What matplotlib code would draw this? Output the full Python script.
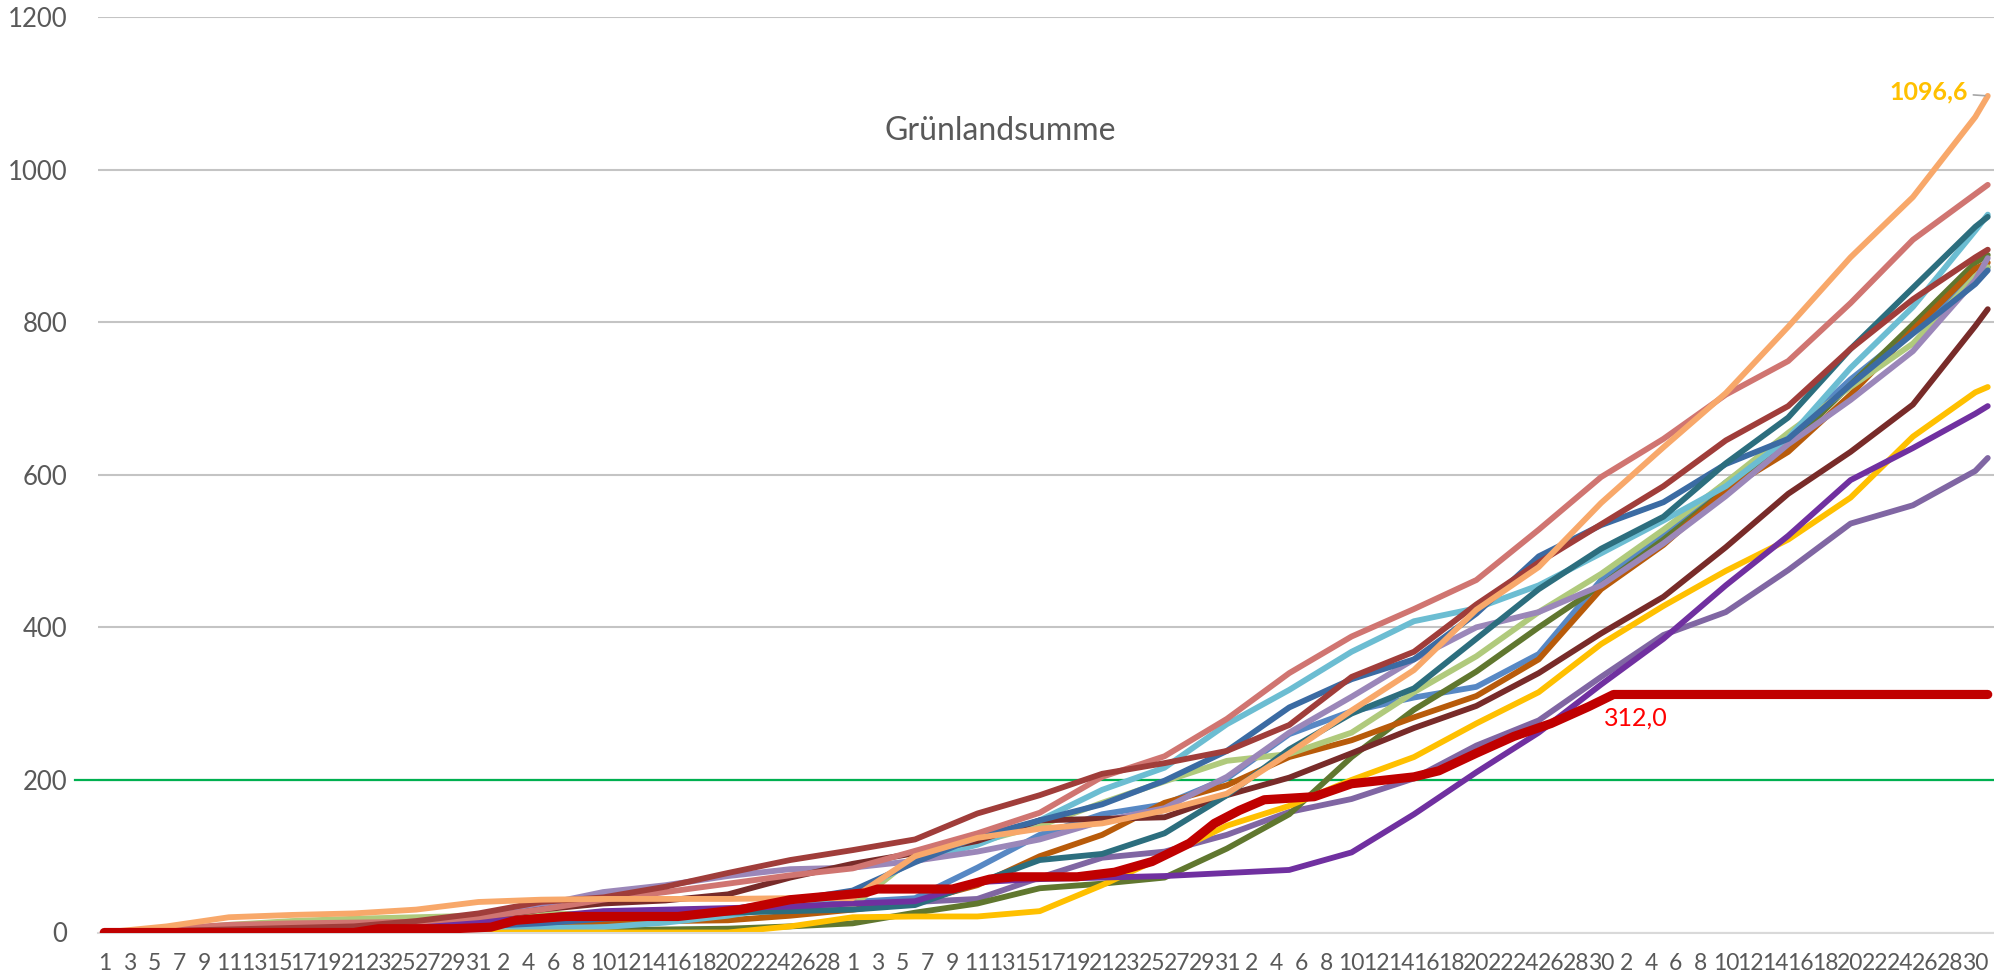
import matplotlib
matplotlib.use("Agg")
import matplotlib.pyplot as plt
import numpy as np

plt.rcParams['font.family'] = ['Lato', 'DejaVu Sans']

# Jan..May of a leap year, one category per day
MONTH_LENGTHS = [31, 29, 31, 30, 31]
TITLE = 'Grünlandsumme'

# sample days (index from 1 Jan) for the older years
DAYS = [0, 5, 10, 15, 20, 25, 30, 35, 40, 45, 50, 55, 60, 65, 70, 75, 80, 85,
        90, 95, 100, 105, 110, 115, 120, 125, 130, 135, 140, 145, 150, 151]

orange = [0, 8, 20, 23, 25, 30, 40, 43, 44, 44, 44, 45, 45, 100, 124, 136, 143, 160,
          182, 235, 291, 344, 423, 479, 563, 636, 707, 794, 885, 964, 1069, 1096.6]
rose = [0, 5, 10, 12, 13, 14, 20, 30, 43, 53, 64, 75, 84, 107, 130, 157, 204, 231,
        280, 340, 388, 424, 462, 528, 597, 647, 705, 749, 825, 908, 968, 980]
teal = [0, 2, 4, 6, 7, 9, 12, 18, 22, 24, 26, 28, 30, 36, 65, 95, 103, 130,
        180, 240, 287, 320, 385, 450, 503, 545, 615, 675, 765, 845, 925, 938]
aqua = [0, 1, 2, 3, 4, 4, 5, 6, 7, 13, 22, 35, 50, 94, 115, 147, 187, 216,
        273, 318, 368, 408, 425, 455, 497, 540, 585, 648, 740, 820, 920, 941]
darkred = [0, 2, 4, 6, 8, 15, 25, 40, 46, 60, 78, 95, 108, 122, 156, 180, 208, 222,
           238, 272, 335, 368, 430, 485, 535, 585, 645, 690, 765, 830, 885, 895]
olive = [0, 0, 1, 1, 2, 2, 2, 3, 3, 4, 5, 8, 12, 26, 38, 58, 64, 72,
         110, 155, 230, 292, 342, 400, 455, 515, 580, 638, 718, 797, 878, 888]
lavender = [0, 2, 5, 7, 9, 12, 22, 36, 53, 62, 74, 83, 85, 94, 106, 122, 146, 163,
            204, 262, 309, 358, 400, 420, 455, 510, 572, 640, 698, 762, 855, 884]
brownorange = [0, 1, 2, 3, 4, 5, 8, 12, 14, 15, 16, 22, 30, 40, 62, 100, 128, 170,
               193, 230, 252, 282, 310, 358, 450, 508, 580, 630, 705, 790, 870, 878]
lightblue = [0, 1, 2, 3, 4, 5, 8, 15, 22, 25, 28, 34, 40, 45, 85, 128, 155, 168,
             202, 260, 290, 308, 322, 365, 462, 520, 590, 650, 725, 790, 860, 872]
steelblue = [0, 1, 3, 4, 5, 6, 8, 12, 18, 22, 30, 42, 55, 92, 125, 147, 168, 199,
             238, 295, 332, 358, 418, 493, 534, 564, 614, 647, 718, 785, 850, 868]
lightgreen = [0, 3, 10, 15, 18, 20, 22, 24, 25, 27, 29, 31, 35, 100, 118, 140, 170, 198,
              225, 234, 262, 315, 362, 420, 470, 528, 590, 655, 715, 772, 860, 872]
maroon = [0, 2, 5, 8, 10, 12, 18, 30, 38, 42, 50, 72, 90, 104, 120, 147, 149, 151,
          180, 203, 235, 268, 297, 340, 392, 440, 505, 575, 630, 692, 795, 817]
yellow = [0, 0, 0, 0, 0, 0, 0, 0, 0, 0, 0, 8, 20, 21, 21, 28, 62, 100,
          140, 166, 200, 230, 274, 315, 378, 428, 474, 515, 570, 650, 708, 715]
violet = [0, 2, 4, 6, 8, 10, 14, 20, 28, 30, 32, 34, 38, 41, 66, 70, 72, 74,
          78, 82, 105, 155, 210, 262, 325, 385, 455, 520, 593, 635, 680, 690]
purple = [0, 1, 3, 5, 6, 8, 12, 18, 25, 28, 30, 33, 37, 40, 44, 72, 98, 106,
          128, 158, 175, 202, 245, 278, 335, 390, 420, 475, 536, 560, 605, 622]

# current year
red_days = [0, 20, 22, 28, 31, 33, 37, 46, 51, 55, 61, 62, 68, 71, 73, 78, 81, 84,
            87, 89, 91, 93, 97, 100, 105, 107, 110, 113, 116, 119, 121, 151]
red_vals = [0, 0, 5, 5, 7, 16, 21, 21, 30, 43, 52, 57, 57, 70, 73, 73, 79, 93,
            117, 143, 160, 174, 178, 195, 204, 212, 235, 257, 274, 296, 312, 312]

THRESHOLD = 200

series = [
    (lightblue, '#5788C4'), (purple, '#8066A3'), (olive, '#60772F'),
    (brownorange, '#B85B0A'), (lightgreen, '#B0CA7C'), (aqua, '#6CBDD2'),
    (lavender, '#9B87B9'), (maroon, '#782B29'), (steelblue, '#3B6BA3'),
    (teal, '#2C6E7E'), (yellow, '#FFC000'), (violet, '#7030A0'),
    (rose, '#D07571'), (darkred, '#A03D3A'), (orange, '#F8A86A'),
]

day_numbers = [d for m in MONTH_LENGTHS for d in range(1, m + 1)]
n_days = len(day_numbers)

fig = plt.figure(figsize=(19.94, 9.77), dpi=100)
ax = fig.add_axes([98 / 1994, 1 - 932.5 / 977, 1896 / 1994, 915.5 / 977])

ax.axhline(THRESHOLD, xmin=-0.012, xmax=1, color='#00B050', lw=1.6,
           clip_on=False, zorder=1)

for vals, col in series:
    ax.plot(DAYS, vals, color=col, lw=4.2, solid_joinstyle='round',
            solid_capstyle='round', zorder=2)

ax.plot(red_days, red_vals, color='#C00000', lw=6.6, solid_joinstyle='round',
        solid_capstyle='round', zorder=3)

ax.annotate('312,0', xy=(red_days[-2], red_vals[-2]), xytext=(-10, -24),
            textcoords='offset pixels', color='#FF0000', fontsize=18,
            ha='left', va='center')
ax.annotate('1096,6', xy=(DAYS[-1], orange[-1]), xytext=(-20, 4),
            textcoords='offset pixels', color='#FFC000', fontsize=18,
            fontweight='bold', ha='right', va='center',
            arrowprops=dict(arrowstyle='-', color='#A6A6A6', lw=1.2,
                            shrinkA=2, shrinkB=2))

ax.text(0.476, 0.875, TITLE, transform=ax.transAxes, ha='center', va='center',
        fontsize=23, color='#595959')

ax.set_xlim(-0.5, n_days - 0.5)
ax.set_ylim(0, 1200)
ax.set_yticks(range(0, 1201, 200))
ax.set_xticks(range(0, n_days, 2))
ax.set_xticklabels([str(day_numbers[i]) for i in range(0, n_days, 2)])

ax.grid(axis='y', color='#C4C4C4', lw=1.5, zorder=0)
ax.set_axisbelow(True)
for s in ['top', 'right', 'left']:
    ax.spines[s].set_visible(False)
ax.spines['bottom'].set_color('#D9D9D9')
ax.spines['bottom'].set_linewidth(1.5)
ax.tick_params(axis='both', length=0, colors='#595959')
ax.tick_params(axis='x', labelsize=16.5, pad=15)
ax.tick_params(axis='y', labelsize=18.5, pad=22)

fig.savefig('out.png', dpi=100)
